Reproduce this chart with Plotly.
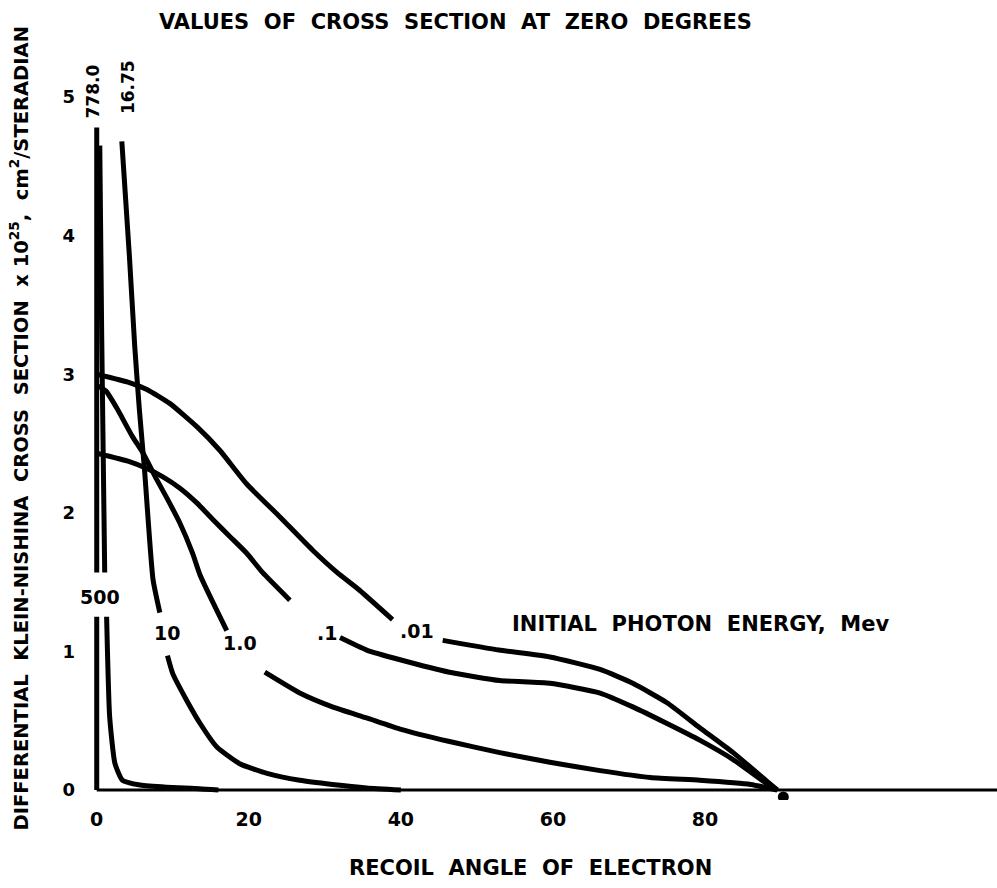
import plotly.graph_objects as go

# ---------------- data ----------------
# recoil angle of electron (degrees) / cross section values; None marks a gap for a label
x_778 = [0, 0, None, 0, 0]
y_778 = [4.78, 1.57, None, 1.25, 0.0]

x_500 = [0.4, 0.66, 1.05, None, 1.3, 1.7, 2.4, 3.4, 5.7, 9.2, 13.5, 16.0]
y_500 = [4.65, 3.25, 1.57, None, 1.25, 0.53, 0.19, 0.07, 0.036, 0.02, 0.01, 0.0]

x_10 = [3.3, 4.3, 5.0, 5.6, 6.3, 7.4, 8.3, None,
        9.3, 10.0, 11.8, 13.6, 15.8, 18.8, 22.4, 26.7, 31.0, 35.5, 40.0]
y_10 = [4.68, 3.85, 3.2, 2.75, 2.3, 1.52, 1.28, None,
        0.97, 0.84, 0.65, 0.48, 0.31, 0.19, 0.12, 0.07, 0.04, 0.015, 0.0]

x_1 = [0, 1.2, 2.6, 4.7, 6.1, 7.9, 9.2, 10.9, 12.6, 13.6, 17.1, None,
       22.1, 26.7, 31.0, 35.5, 39.9, 46.4, 53.0, 59.6, 66.2, 72.8, 79.3, 86.0, 89.5]
y_1 = [2.92, 2.88, 2.76, 2.55, 2.43, 2.24, 2.11, 1.93, 1.71, 1.55, 1.15, None,
       0.85, 0.70, 0.60, 0.52, 0.44, 0.35, 0.27, 0.20, 0.14, 0.09, 0.07, 0.04, 0.0]

x_01 = [0, 4.3, 6.6, 8.7, 10.9, 13.2, 15.3, 17.5, 19.7, 21.8, 25.4, None,
        32.0, 35.5, 39.9, 46.4, 53.0, 59.6, 66.2, 70.5, 75.0, 79.3, 83.7, 88.0, 89.5]
y_01 = [2.43, 2.37, 2.32, 2.26, 2.18, 2.07, 1.95, 1.83, 1.71, 1.57, 1.37, None,
        1.10, 1.01, 0.94, 0.85, 0.79, 0.77, 0.70, 0.60, 0.48, 0.36, 0.22, 0.05, 0.0]

x_001 = [0, 4.3, 6.6, 9.6, 13.2, 16.2, 19.7, 24.1, 28.4, 31.6, 34.6, 38.9, None,
         45.5, 52.9, 59.6, 66.2, 70.5, 75.0, 79.3, 83.7, 88.0, 89.5]
y_001 = [3.0, 2.94, 2.89, 2.79, 2.62, 2.45, 2.21, 1.97, 1.73, 1.57, 1.44, 1.23, None,
         1.08, 1.01, 0.96, 0.87, 0.77, 0.63, 0.45, 0.27, 0.07, 0.0]

x_dot = [90.3]
y_dot = [-0.05]

curve_labels = ["500", "10", "1.0", ".1", ".01"]
curve_label_x = [0.4, 9.3, 18.8, 30.3, 42.1]
curve_label_y = [1.39, 1.13, 1.06, 1.13, 1.15]

zero_labels = ["778.0", "16.75"]
zero_label_x = [-0.5, 4.2]
zero_label_y = [5.04, 5.07]

x_ticks = [0, 20, 40, 60, 80]
y_ticks = [0, 1, 2, 3, 4, 5]

X_RANGE = [-2.2, 118.4]
Y_RANGE = [-0.072, 5.34]

FONT = "DejaVu Sans"
NB = "\u00a0"


def spaced(words):
    return (NB * 2).join(words)


def bold(size):
    return dict(family=FONT, size=size, color="black", weight="bold")


fig = go.Figure()
line_style = dict(color="black", width=5, shape="spline", smoothing=0.5)
for xs, ys in [(x_778, y_778), (x_500, y_500), (x_10, y_10),
               (x_1, y_1), (x_01, y_01), (x_001, y_001)]:
    fig.add_trace(go.Scatter(x=xs, y=ys, mode="lines", line=line_style,
                             connectgaps=False, showlegend=False, hoverinfo="skip"))

fig.add_trace(go.Scatter(x=x_dot, y=y_dot, mode="markers",
                         marker=dict(color="black", size=11), showlegend=False, hoverinfo="skip"))

# baseline (x axis line starting at zero)
fig.add_shape(type="line", xref="x", yref="y", x0=0, x1=X_RANGE[1], y0=0, y1=0,
              line=dict(color="black", width=3), layer="below")

for t, xv, yv in zip(curve_labels, curve_label_x, curve_label_y):
    fig.add_annotation(x=xv, y=yv, xref="x", yref="y", text=t, showarrow=False,
                       xanchor="center", yanchor="middle", font=bold(19))

for t, xv, yv in zip(zero_labels, zero_label_x, zero_label_y):
    fig.add_annotation(x=xv, y=yv, xref="x", yref="y", text=t, showarrow=False, textangle=-90,
                       xanchor="center", yanchor="middle", font=bold(17))

fig.add_annotation(x=54.3, y=1.2, xref="x", yref="y", xanchor="left", yanchor="middle",
                   text=spaced(["INITIAL", "PHOTON", "ENERGY,", "Mev"]), showarrow=False,
                   font=bold(21))

fig.add_annotation(x=0.409, y=1.037, xref="paper", yref="paper", xanchor="center", yanchor="middle",
                   text=spaced(["VALUES", "OF", "CROSS", "SECTION", "AT", "ZERO", "DEGREES"]),
                   showarrow=False, font=bold(21))

fig.add_annotation(x=0.491, y=-0.0907, xref="paper", yref="paper", xanchor="center", yanchor="middle",
                   text=spaced(["RECOIL", "ANGLE", "OF", "ELECTRON"]),
                   showarrow=False, font=bold(21))

fig.add_annotation(x=-0.066, y=0.496, xref="paper", yref="paper", textangle=-90,
                   xanchor="center", yanchor="middle",
                   text=spaced(["DIFFERENTIAL", "KLEIN-NISHINA", "CROSS", "SECTION",
                                f"x{NB}10<sup>25</sup>,", "cm<sup>2</sup>/STERADIAN"]),
                   showarrow=False, font=bold(19.5))

fig.update_layout(
    width=997, height=888,
    margin=dict(l=80, r=0, t=50, b=88),
    paper_bgcolor="white", plot_bgcolor="white",
    font=dict(family=FONT, color="black"),
    xaxis=dict(range=X_RANGE, tickvals=x_ticks, ticktext=[str(v) for v in x_ticks],
               showgrid=False, zeroline=False, showline=False, ticks="",
               ticklabelstandoff=6,
               tickfont=bold(19)),
    yaxis=dict(range=Y_RANGE, tickvals=y_ticks, ticktext=[str(v) for v in y_ticks],
               showgrid=False, zeroline=False, showline=False, ticks="",
               ticklabelstandoff=4,
               tickfont=bold(18)),
)

fig.write_html("out.html")
